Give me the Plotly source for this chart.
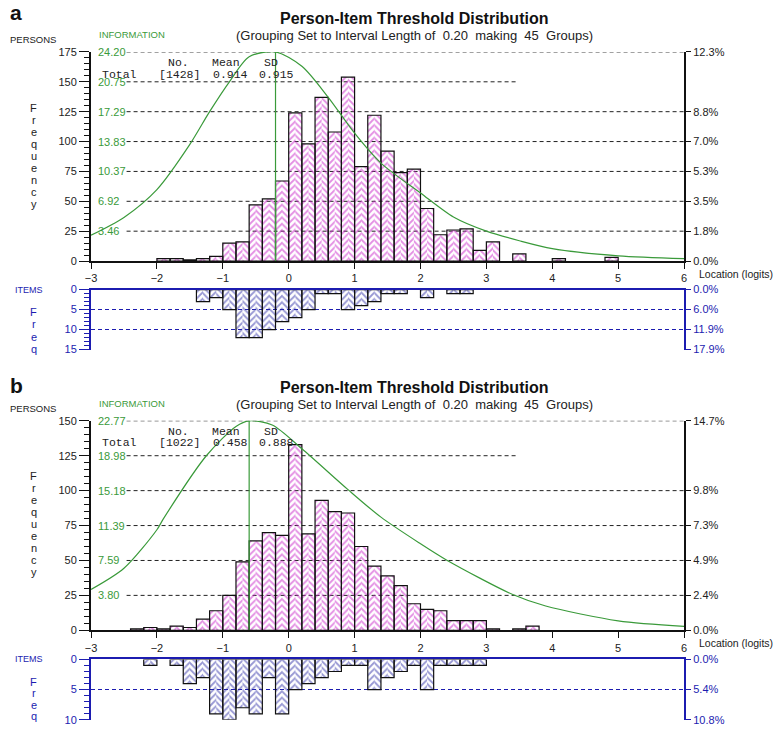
import plotly.graph_objects as go

W, H = 778, 733

# ---- data ----
bin_start = -3.0
bin_width = 0.2          # 45 groups from -3 to 6
x_ticks = [-3, -2, -1, 0, 1, 2, 3, 4, 5, 6]

# panel a
persons_a = [0, 0, 0, 0, 0, 2, 2, 1, 2, 4, 15, 16, 47, 52, 67,
             124, 98, 137, 108, 154, 79, 122, 92, 74, 77, 44, 22, 26, 27, 9,
             16, 0, 6, 0, 0, 2, 0, 0, 0, 3, 0, 0, 0, 0, 0]
items_a = [0, 0, 0, 0, 0, 0, 0, 0, 3, 2, 5, 12, 12, 10, 8,
           7, 5, 1, 1, 5, 4, 3, 1, 1, 0, 2, 0, 1, 1, 0,
           0, 0, 0, 0, 0, 0, 0, 0, 0, 0, 0, 0, 0, 0, 0]
info_x_a = [-3, -2.5, -2, -1.5, -1.2, -0.9, -0.6, -0.2, 0.2, 0.6, 1.0, 1.4, 2.0, 2.5, 3.0, 3.5, 4.0, 5.0, 6.0]
info_a = [2.99, 5.05, 8.27, 13.50, 17.29, 20.74, 23.65, 24.20, 22.54, 18.95, 14.80, 11.34, 7.88, 5.10, 3.46, 2.35, 1.44, 0.61, 0.29]
info_labels_a = ["3.46", "6.92", "10.37", "13.83", "17.29", "20.75", "24.20"]
info_peak_a = -0.2
stats_a = ["[1428]", "0.914", "0.915"]
n_persons_a = 1428
n_items_a = 84

# panel b
persons_b = [0, 0, 0, 1, 2, 1, 3, 2, 8, 14, 25, 49, 64, 70, 68,
             133, 69, 93, 85, 84, 60, 46, 39, 32, 19, 15, 14, 7, 7, 7,
             1, 0, 1, 3, 0, 0, 0, 0, 0, 0, 0, 0, 0, 0, 0]
items_b = [0, 0, 0, 0, 1, 0, 1, 4, 3, 9, 10, 8, 9, 3, 9,
           5, 4, 3, 2, 1, 1, 5, 3, 2, 1, 5, 1, 1, 1, 1,
           0, 0, 0, 0, 0, 0, 0, 0, 0, 0, 0, 0, 0, 0, 0]
info_x_b = [-3, -2.5, -2, -1.9, -1.25, -0.8, -0.6, -0.25, 0.2, 0.9, 1.4, 2.0, 2.4, 3.4, 3.9, 5.0, 6.0]
info_b = [4.43, 6.74, 10.93, 12.14, 18.97, 22.16, 22.77, 22.31, 19.73, 15.29, 12.30, 9.41, 7.62, 3.89, 2.64, 1.03, 0.43]
info_labels_b = ["3.80", "7.59", "11.39", "15.18", "18.98", "22.77"]
info_peak_b = -0.6
stats_b = ["[1022]", "0.458", "0.888"]
n_persons_b = 1022
n_items_b = 93

GREEN = "#3a9a3a"
BLUE = "#1c1cb0"
MAGENTA = "#c81ec8"
HATCH_BLUE = "#3030a8"
FONT = "Arial, Liberation Sans, sans-serif"
MONO = "Liberation Mono, Courier New, monospace"

fig = go.Figure()
annotations = []
shapes = []


def px(x):
    return x / W


def py(y):
    return 1 - y / H


def ref(letter, i):
    return letter if i == 1 else f"{letter}{i}"


def key(letter, i):
    return f"{letter}axis" if i == 1 else f"{letter}axis{i}"


def note(text, x, y, size=10.5, color="#222", anchor="left", family=FONT, bold=False):
    if bold:
        text = f"<b>{text}</b>"
    annotations.append(dict(text=text, x=px(x), y=py(y), xref="paper", yref="paper",
                            xanchor=anchor, yanchor="middle", showarrow=False,
                            font=dict(size=size, color=color, family=family)))


centres = [bin_start + bin_width * (i + 0.5) for i in range(45)]


def hist(values, xr, yr, yr_outline, fg):
    xs = [c for c, v in zip(centres, values) if v]
    ys = [v for v in values if v]
    for shift, shape in ((-bin_width / 4, "/"), (bin_width / 4, "\\")):
        fig.add_trace(go.Bar(x=[c + shift for c in xs], y=ys, width=bin_width / 2,
                             xaxis=xr, yaxis=yr, hoverinfo="skip",
                             marker=dict(color="rgba(0,0,0,0)", line=dict(width=0),
                                         pattern=dict(shape=shape, fgcolor=fg, bgcolor="rgba(0,0,0,0)",
                                                      size=4.5, solidity=0.4))))
    # outline drawn on the right-hand (same range) axis so that axis is rendered too
    fig.add_trace(go.Bar(x=xs, y=ys, width=bin_width, xaxis=xr, yaxis=yr_outline, hoverinfo="skip",
                         marker=dict(color="rgba(0,0,0,0)", line=dict(color="#111", width=1.2))))


def panel(n, letter, persons, items, info_x, info_y, info_labels, peak_x, stats,
          n_persons, n_items, p_top, i_top, top, bottom, itop, ibottom, off, fstep, letter_y):
    xa, xb = 2 * n + 1, 2 * n + 2
    yp, ypr, yi, yit, yitr = [5 * n + k for k in range(1, 6)]
    dom_x = [px(86), px(686)]

    p_ticks = list(range(0, p_top + 1, 25))
    pct_ticks = [v for v in p_ticks if v != p_ticks[-2]]
    i_ticks = list(range(0, i_top + 1, 5))
    info_top = float(info_labels[-1])

    hist(persons, ref("x", xa), ref("y", yp), ref("y", ypr), MAGENTA)
    hist(items, ref("x", xb), ref("y", yit), ref("y", yitr), HATCH_BLUE)

    fig.add_trace(go.Scatter(x=info_x, y=info_y, mode="lines", hoverinfo="skip",
                             line=dict(color=GREEN, width=1.2, shape="spline", smoothing=0.8),
                             xaxis=ref("x", xa), yaxis=ref("y", yi)))
    fig.add_trace(go.Scatter(x=[peak_x, peak_x], y=[0, max(info_y)], mode="lines", hoverinfo="skip",
                             line=dict(color=GREEN, width=1.2),
                             xaxis=ref("x", xa), yaxis=ref("y", yi)))

    lay = {}
    lay[key("x", xa)] = dict(domain=dom_x, range=[-3, 6], anchor=ref("y", yp), tickvals=x_ticks,
                             ticks="outside", ticklen=6, tickcolor="#111", showline=True,
                             linecolor="#111", linewidth=2, showgrid=False, zeroline=False)
    lay[key("x", xb)] = dict(domain=dom_x, range=[-3, 6], anchor=ref("y", yit), side="top",
                             showline=True, linecolor=BLUE, linewidth=2, showticklabels=False,
                             ticks="", showgrid=False, zeroline=False)
    lay[key("y", yp)] = dict(domain=[py(bottom), py(top)], range=[0, p_top], anchor=ref("x", xa),
                             tickvals=p_ticks, ticks="outside", ticklen=10, tickcolor="#111",
                             showline=True, linecolor="#111", linewidth=2, showgrid=False,
                             zeroline=False,
                             minor=dict(dtick=5, tick0=0, ticks="outside", ticklen=5,
                                        tickcolor="#111", showgrid=False))
    lay[key("y", ypr)] = dict(overlaying=ref("y", yp), side="right", anchor=ref("x", xa),
                              range=[0, p_top], tickvals=pct_ticks,
                              ticktext=[f"{v / n_persons * 100:.1f}%" for v in pct_ticks],
                              ticks="outside", ticklen=5, tickcolor="#111", showline=True,
                              linecolor="#111", linewidth=2, showgrid=False, zeroline=False)
    lay[key("y", yi)] = dict(overlaying=ref("y", yp), side="left", anchor=ref("x", xa),
                             range=[0, info_top], showticklabels=False, ticks="",
                             showline=False, showgrid=False, zeroline=False)
    lay[key("y", yit)] = dict(domain=[py(ibottom), py(itop)], range=[i_top, 0], anchor=ref("x", xb),
                              tickvals=i_ticks, ticks="outside", ticklen=10, tickcolor=BLUE,
                              showline=True, linecolor=BLUE, linewidth=2, tickfont=dict(color=BLUE),
                              showgrid=True, gridcolor=BLUE, griddash="4px,3px", gridwidth=1,
                              zeroline=False,
                              minor=dict(dtick=1, tick0=0, ticks="outside", ticklen=5,
                                         tickcolor=BLUE, showgrid=False))
    lay[key("y", yitr)] = dict(overlaying=ref("y", yit), side="right", anchor=ref("x", xb),
                               range=[i_top, 0], tickvals=i_ticks,
                               ticktext=[f"{v / n_items * 100:.1f}%" for v in i_ticks],
                               ticks="outside", ticklen=5, tickcolor=BLUE, showline=True,
                               linecolor=BLUE, linewidth=2, tickfont=dict(color=BLUE),
                               showgrid=False, zeroline=False)
    fig.update_layout(**lay)

    # dashed grid of the persons plot, starting after the information labels
    for v in p_ticks[1:]:
        shapes.append(dict(type="line", xref=ref("x", xa), yref=ref("y", yp),
                           x0=-2.46, x1=3.48 if v == p_ticks[-2] else 6, y0=v, y1=v,
                           line=dict(color="#222", width=1, dash="4px,3px"), layer="below"))

    # information scale labels, inside the plot next to the left axis
    for s in info_labels:
        annotations.append(dict(text=s, x=px(91), y=float(s), xref="paper", yref=ref("y", yi),
                                xanchor="left", yanchor="middle", showarrow=False,
                                font=dict(size=11, color=GREEN, family=FONT)))

    # texts
    note(letter, 2, letter_y, size=21, color="#111", bold=True)
    note("Person-Item Threshold Distribution", 413, off + 13, size=16, color="#111", anchor="center", bold=True)
    note("(Grouping Set to Interval Length of\u00a0 0.20\u00a0 making\u00a0 45\u00a0 Groups)",
         413, off + 30, size=13, color="#222", anchor="center")
    note("PERSONS", 2, top - 12.5, size=9.5, color="#222")
    note("INFORMATION", 92, top - 18, size=9.5, color=GREEN)
    note("Location (logits)", 699, bottom + 13, size=10.5, color="#222")
    for k, ch in enumerate("Frequency"):
        note(ch, 28, top + 56.5 + 12.2 * k, size=11, color="#222", anchor="center")
    note("ITEMS", 7, itop, size=9, color=BLUE)
    for k, ch in enumerate("Freq"):
        note(ch, 28, itop + 23 + fstep * k, size=11, color=BLUE, anchor="center")
    for txt, x in (("No.", 175), ("Mean", 223), ("SD", 268)):
        note(txt, x, top + 10.5, size=11.5, color="#222", anchor="center", family=MONO)
    for txt, x in zip(["Total"] + stats, (115, 176, 227, 274)):
        note(txt, x, top + 22.5, size=11.5, color="#222", anchor="center", family=MONO)


panel(0, "a", persons_a, items_a, info_x_a, info_a, info_labels_a, info_peak_a, stats_a,
      n_persons_a, n_items_a, 175, 15, 46.7, 259.3, 288.3, 349.3, 0, 12.5, 7)
panel(1, "b", persons_b, items_b, info_x_b, info_b, info_labels_b, info_peak_b, stats_b,
      n_persons_b, n_items_b, 150, 10, 421.7, 634.7, 664.3, 725.7, 375, 11.5, 386)

fig.update_layout(width=W, height=H, margin=dict(l=0, r=0, t=0, b=0),
                  paper_bgcolor="white", plot_bgcolor="white", showlegend=False,
                  barmode="overlay", font=dict(family=FONT, size=11, color="#222"),
                  annotations=annotations, shapes=shapes)

fig.write_html("out.html", config={"displayModeBar": False},
               post_script="document.body.style.margin='0';")
